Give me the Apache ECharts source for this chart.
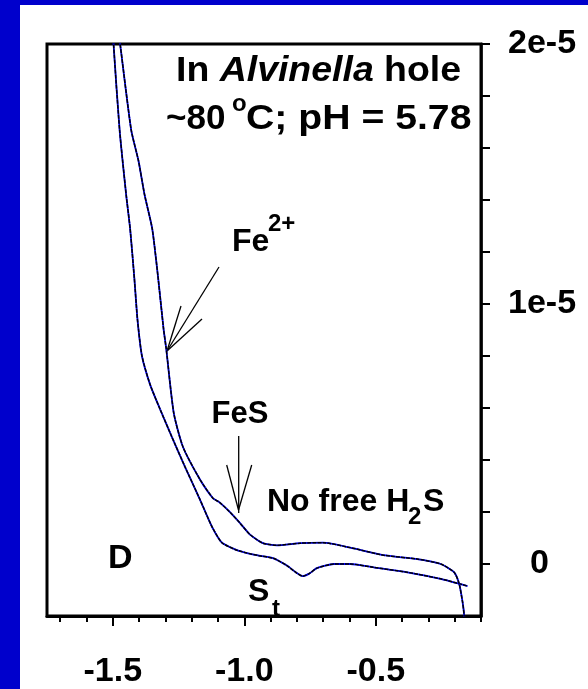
<!DOCTYPE html>
<html>
<head>
<meta charset="utf-8">
<script src="https://cdn.jsdelivr.net/npm/echarts@6/dist/echarts.min.js"></script>
<style>
  html, body { margin: 0; padding: 0; background: #0000cc; }
  #panel { position: absolute; left: 20px; top: 5px; width: 568px; height: 684px; background: #fff; }
  #chart { position: absolute; left: 0; top: 0; width: 588px; height: 689px; }
</style>
</head>
<body>
<div id="panel"></div>
<div id="chart"></div>
<script>
// potential (V) vs current (A), two scans
const xA = [-1.505, -1.497, -1.474, -1.449, -1.434, -1.418, -1.406, -1.389, -1.358, -1.320, -1.275, -1.225, -1.168, -1.123, -1.085, -1.035, -0.997, -0.944, -0.889, -0.838, -0.803, -0.778, -0.753, -0.724, -0.660, -0.597, -0.508, -0.380, -0.253, -0.151];
const yA = [21.7e-6, 20.0e-6, 16.7e-6, 14.2e-6, 12.9e-6, 11.0e-6, 9.4e-6, 8.0e-6, 6.90e-6, 5.95e-6, 4.88e-6, 3.73e-6, 2.47e-6, 1.44e-6, 0.82e-6, 0.56e-6, 0.44e-6, 0.32e-6, 0.22e-6, -0.06e-6, -0.33e-6, -0.47e-6, -0.37e-6, -0.16e-6, 0.0, 0.0, -0.13e-6, -0.32e-6, -0.57e-6, -0.85e-6];

const xB = [-1.494, -1.472, -1.430, -1.402, -1.379, -1.350, -1.328, -1.307, -1.297, -1.268, -1.233, -1.169, -1.119, -1.094, -1.057, -1.016, -0.978, -0.929, -0.876, -0.787, -0.700, -0.597, -0.471, -0.342, -0.253, -0.202, -0.183, -0.170, -0.164, -0.163];
const yB = [21.7e-6, 20.0e-6, 16.7e-6, 15.5e-6, 14.2e-6, 12.9e-6, 11.05e-6, 9.05e-6, 8.3e-6, 5.8e-6, 4.5e-6, 3.26e-6, 2.53e-6, 2.37e-6, 2.02e-6, 1.57e-6, 1.13e-6, 0.80e-6, 0.72e-6, 0.80e-6, 0.82e-6, 0.63e-6, 0.34e-6, 0.19e-6, 0.0, -0.32e-6, -0.76e-6, -1.47e-6, -1.97e-6, -2.35e-6];

const xTicks = [-1.7, -1.6, -1.5, -1.4, -1.3, -1.2, -1.1, -1.0, -0.9, -0.8, -0.7, -0.6, -0.5, -0.4, -0.3, -0.2, -0.1];
const xLabels = [-1.5, -1.0, -0.5];
const yTicks = [0, 2e-6, 4e-6, 6e-6, 8e-6, 10e-6, 12e-6, 14e-6, 16e-6, 18e-6, 20e-6];
const yLabels = [0, 1e-5, 2e-5];

const F = 'Arial, "Liberation Sans", sans-serif';

const toPairs = (xs, ys) => xs.map((x, i) => [x, ys[i]]);

const curve = (data, color, width, dash) => ({
  type: 'line',
  data: data,
  symbol: 'none',
  smooth: 0.2,
  silent: true,
  lineStyle: { color: color, width: width, type: dash || 'solid' },
});

// plain text, y = middle of the capitals
const txt = (x, y, text, size, opts) => Object.assign({
  type: 'text',
  x: x,
  y: y,
  style: {
    text: text,
    fill: '#000',
    font: 'bold ' + size + 'px ' + F,
    align: 'left',
    verticalAlign: 'middle',
  },
}, opts || {});

const ln = (x1, y1, x2, y2) => ({
  type: 'line',
  shape: { x1: x1, y1: y1, x2: x2, y2: y2 },
  style: { stroke: '#000', lineWidth: 1.3 },
});

const chart = echarts.init(document.getElementById('chart'));
chart.setOption({
  animation: false,
  grid: {
    left: 47, top: 44, right: 107, bottom: 69,
    show: true, backgroundColor: '#fff', borderColor: '#000', borderWidth: 3,
  },
  xAxis: [
    {
      type: 'value', min: -1.75, max: -0.1, position: 'bottom',
      axisLine: { onZero: false, lineStyle: { color: '#000', width: 3 } },
      axisTick: { customValues: xLabels, length: 10, lineStyle: { color: '#000', width: 2 } },
      axisLabel: {
        customValues: xLabels, margin: 39, color: '#000',
        fontSize: 34, fontWeight: 'bold', fontFamily: F,
        formatter: (v) => v.toFixed(1),
      },
      splitLine: { show: false },
    },
    {
      type: 'value', min: -1.75, max: -0.1, position: 'bottom',
      axisLine: { show: false, onZero: false },
      axisTick: { customValues: xTicks, length: 6, lineStyle: { color: '#000', width: 2 } },
      axisLabel: { show: false },
      splitLine: { show: false },
    },
  ],
  yAxis: {
    type: 'value', min: -2e-6, max: 2e-5, position: 'right',
    axisLine: { show: true, lineStyle: { color: '#000', width: 2.5 } },
    axisTick: { show: true, customValues: yTicks, length: 9, lineStyle: { color: '#000', width: 2 } },
    axisLabel: {
      customValues: yLabels, margin: 27, color: '#000',
      fontSize: 34, fontWeight: 'bold', fontFamily: F,
      formatter: (v) => (Math.abs(v) < 1e-12 ? '{z|0}' : Math.round(v * 1e5) + 'e-5'),
      rich: { z: { padding: [0, 0, 0, 22], fontSize: 34, fontWeight: 'bold', fontFamily: F, color: '#000' } },
    },
    splitLine: { show: false },
  },
  series: [
    curve(toPairs(xA, yA), '#0000ff', 1.8),
    curve(toPairs(xA, yA), '#000', 1.5, [4, 1]),
    curve(toPairs(xB, yB), '#0000ff', 1.8),
    curve(toPairs(xB, yB), '#000', 1.5, [4, 1]),
  ],
  graphic: [
    {
      type: 'text', x: 176, y: 71, scaleX: 1.07,
      style: {
        text: '{a|In }{i|Alvinella}{a| hole}',
        verticalAlign: 'middle',
        rich: {
          a: { fontSize: 35, fontWeight: 'bold', fontFamily: F, fill: '#000' },
          i: { fontSize: 35, fontWeight: 'bold', fontStyle: 'italic', fontFamily: F, fill: '#000' },
        },
      },
    },
    txt(166, 119, '~80', 35),
    txt(232, 104, 'o', 24),
    txt(246, 119, 'C; pH = 5.78', 35, { scaleX: 1.12 }),
    txt(232, 242, 'Fe', 32),
    txt(268, 224, '2+', 24),
    ln(219, 267, 167, 351),
    ln(181, 306, 167, 351),
    ln(202, 319, 167, 351),
    txt(240, 414, 'FeS', 31, { style: { text: 'FeS', fill: '#000', font: 'bold 31px ' + F, align: 'center', verticalAlign: 'middle' } }),
    ln(238.7, 436, 238.7, 513),
    ln(226.7, 465, 238.5, 510),
    ln(251.7, 465, 238.5, 510),
    txt(267, 502, 'No free H', 32),
    txt(408, 517, '2', 24),
    txt(423, 502, 'S', 32),
    txt(108, 559, 'D', 34),
    txt(248, 592, 'S', 32),
    txt(272, 609, 't', 24),
  ],
});
</script>
</body>
</html>
